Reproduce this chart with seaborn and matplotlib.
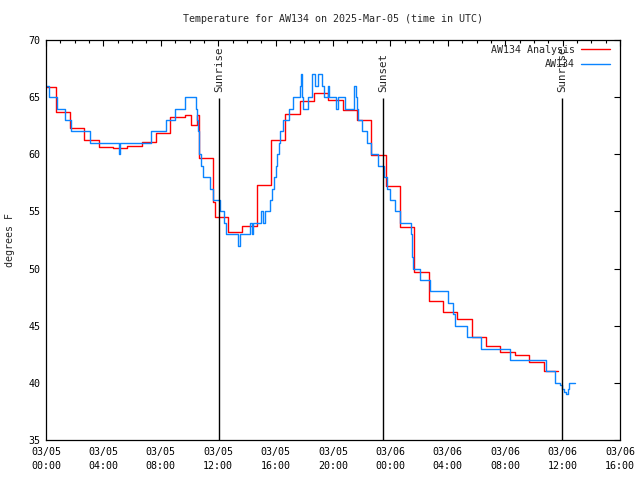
import matplotlib
matplotlib.use("Agg")
import matplotlib.pyplot as plt
import seaborn as sns
import pandas as pd

# ---------------- data ----------------
title = "Temperature for AW134 on 2025-Mar-05 (time in UTC)"

# Analysis (red) step series: hours since 03/05 00:00 UTC, degrees F
red_hours = [0.0, 0.67, 1.67, 2.67, 3.67, 4.67, 5.67, 6.67, 7.67, 8.67, 9.69, 10.08,
             10.5, 10.67, 11.67, 11.75, 12.67, 13.67, 14.67, 15.67, 16.67, 17.67,
             18.67, 19.67, 20.67, 21.67, 22.67, 23.67, 24.67, 25.67, 26.67, 27.67,
             28.67, 29.67, 30.67, 31.67, 32.67, 33.67, 34.67, 35.67]
red_temps = [65.86, 63.73, 62.27, 61.25, 60.6, 60.52, 60.72, 61.1, 61.84, 63.3, 63.44, 62.56,
             63.4, 59.65, 55.85, 54.54, 53.2, 53.75, 57.3, 61.25, 63.53, 64.66,
             65.37, 64.75, 63.88, 62.97, 59.92, 57.2, 53.67, 49.67, 47.19, 46.23,
             45.56, 43.99, 43.23, 42.7, 42.44, 41.83, 41.04, 41.04]

# Observations (blue) step series
blue_hours = [0.00, 0.24, 0.77, 1.29, 1.71, 3.07, 5.09, 5.19, 7.32, 8.33, 9.02, 9.72,
              10.42, 10.49, 10.56, 10.63, 10.68, 10.78, 10.94, 11.43, 11.66, 12.16,
              12.40, 12.54, 13.38, 13.52, 14.22, 14.33, 14.43, 14.98, 15.12, 15.26,
              15.64, 15.75, 15.89, 16.03, 16.12, 16.22, 16.34, 16.55, 16.93, 17.23,
              17.70, 17.74, 17.82, 17.93, 18.28, 18.52, 18.56, 18.75, 18.98, 19.21,
              19.39, 19.65, 19.74, 20.24, 20.33, 20.84, 21.46, 21.57, 21.67, 21.76,
              22.00, 22.35, 22.68, 23.16, 23.52, 23.73, 23.97, 24.32, 24.70, 25.44,
              25.48, 25.53, 25.60, 26.03, 26.76, 28.03, 28.36, 28.50, 29.37, 30.31,
              32.30, 34.84, 35.47, 35.85, 35.96, 36.10, 36.24, 36.38, 36.48, 36.86]
blue_temps = [66, 65, 64, 63, 62, 61, 60, 61, 62, 63, 64, 65,
              64, 63, 62, 61, 60, 59, 58, 57, 56, 55,
              54, 53, 52, 53, 54, 53, 54, 55, 54, 55,
              56, 57, 58, 59, 60, 61, 62, 63, 64, 65,
              66, 67, 65, 64, 65, 66, 67, 66, 67, 66,
              65, 66, 65, 64, 65, 64, 66, 65, 64, 63,
              62, 61, 60, 59, 58, 57, 56, 55, 54, 53,
              52, 51, 50, 49, 48, 47, 46, 45, 44, 43,
              42, 41, 40, 39.8, 39.5, 39.2, 39, 39.5, 40, 40]

sun_hours = [12.06, 23.48, 35.98]
sun_labels = ["Sunrise", "Sunset", "Sunrise"]

x_ticks = [0, 4, 8, 12, 16, 20, 24, 28, 32, 36, 40]
x_tick_labels = ["03/05\n00:00", "03/05\n04:00", "03/05\n08:00", "03/05\n12:00",
                 "03/05\n16:00", "03/05\n20:00", "03/06\n00:00", "03/06\n04:00",
                 "03/06\n08:00", "03/06\n12:00", "03/06\n16:00"]
y_ticks = [35, 40, 45, 50, 55, 60, 65, 70]

# ---------------- style ----------------
sns.set_theme(style="white")
plt.rcParams["font.family"] = ["DejaVu Sans Mono"]
FS = 7.2

fig = plt.figure(figsize=(6.4, 4.8), dpi=100)
ax = fig.add_axes([46 / 640, 40 / 480, 574 / 640, 400 / 480])

red_df = pd.DataFrame({"hour": red_hours, "temp": red_temps})
blue_df = pd.DataFrame({"hour": blue_hours, "temp": blue_temps})

sns.lineplot(data=red_df, x="hour", y="temp", ax=ax, color="#ff0000", lw=1.0,
             drawstyle="steps-post", estimator=None, sort=False, label="AW134 Analysis")
sns.lineplot(data=blue_df, x="hour", y="temp", ax=ax, color="#0a84ff", lw=1.0,
             drawstyle="steps-post", estimator=None, sort=False, label="AW134")

ax.vlines(sun_hours, 35, 64.9, color="black", lw=1.0)
for t, lab in zip(sun_hours, sun_labels):
    ax.text(t, 65.45, lab, rotation=90, ha="center", va="bottom", fontsize=7.8)

ax.set_xlim(0, 40)
ax.set_ylim(35, 70)
ax.set_xticks(x_ticks)
ax.set_xticklabels(x_tick_labels, fontsize=FS, linespacing=1.5)
ax.set_xticks(range(0, 41), minor=True)
ax.set_yticks(y_ticks)
ax.set_yticklabels([str(v) for v in y_ticks], fontsize=FS)
ax.tick_params(which="both", direction="in", top=True, right=True, colors="black")
ax.tick_params(which="major", length=4, width=0.8)
ax.tick_params(which="minor", length=2.2, width=0.8)
ax.tick_params(axis="x", which="major", pad=5)
ax.tick_params(axis="y", which="major", pad=4)
for s in ax.spines.values():
    s.set_color("black")
    s.set_linewidth(0.9)

ax.set_xlabel("")
ax.set_ylabel("degrees F", fontsize=FS)
ax.yaxis.set_label_coords(-0.054, 0.5)

fig.text(333 / 640, 1 - 19 / 480, title, ha="center", va="center", fontsize=FS)

leg = ax.legend(loc="upper right", bbox_to_anchor=(0.982, 0.988), frameon=False,
                markerfirst=False, fontsize=FS, handlelength=2.9, handletextpad=0.6,
                labelspacing=0.45, borderpad=0, borderaxespad=0)

fig.savefig("out.png", dpi=100, facecolor="white")
